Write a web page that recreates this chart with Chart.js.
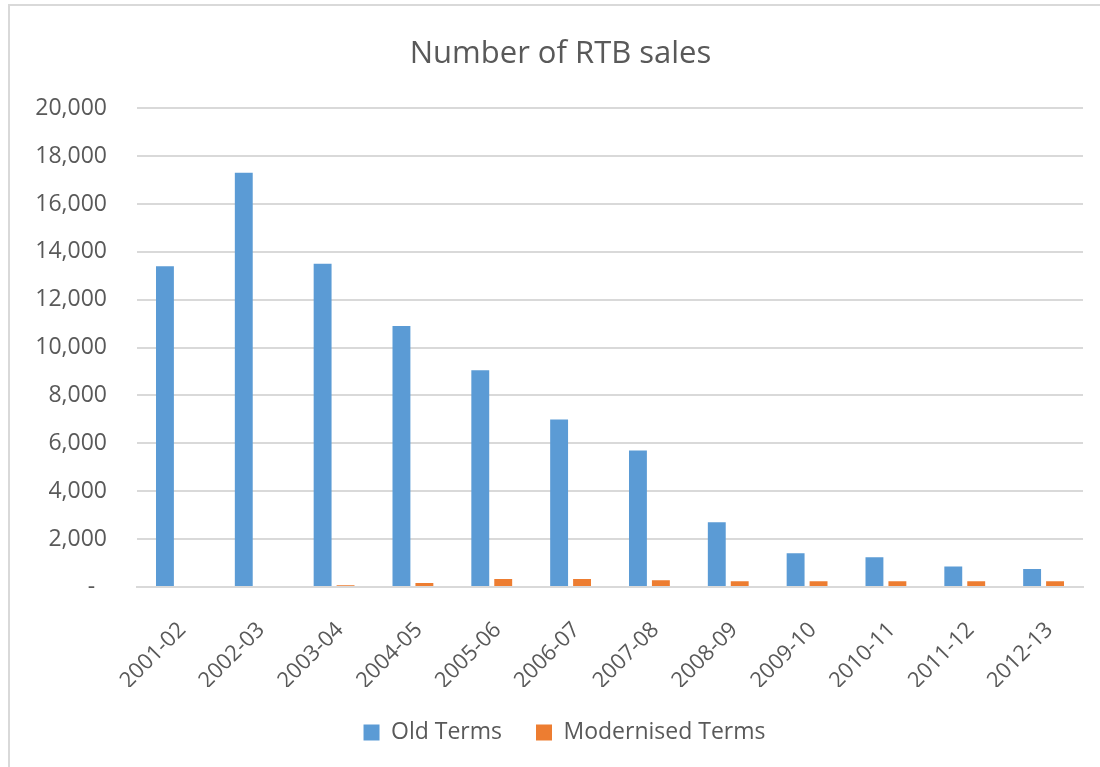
<!DOCTYPE html>
<html>
<head>
<meta charset="utf-8">
<title>Number of RTB sales</title>
<script src="https://cdn.jsdelivr.net/npm/chart.js@4"></script>
<style>
  html, body { margin: 0; padding: 0; background: #fff; overflow: hidden; }
  #frame {
    position: absolute; left: 8px; top: 4px; width: 1200px; height: 900px;
    border: 2px solid #d9d9d9; box-sizing: border-box;
  }
  #chart { position: absolute; left: 0; top: 0; }
</style>
</head>
<body>
<div id="frame"></div>
<canvas id="chart" width="1100" height="767"></canvas>
<script>
// data
const years = ['2001-02', '2002-03', '2003-04', '2004-05', '2005-06', '2006-07',
  '2007-08', '2008-09', '2009-10', '2010-11', '2011-12', '2012-13'];
const oldTerms = [13400, 17300, 13500, 10900, 9050, 7000, 5700, 2700, 1410, 1240, 860, 750];
const modernisedTerms = [0, 0, 70, 170, 330, 330, 280, 240, 240, 240, 240, 240];
const yTicks = [0, 2000, 4000, 6000, 8000, 10000, 12000, 14000, 16000, 18000, 20000];

const textColor = '#595959';
const gridColor = '#d9d9d9';
const fontFamily = '"Open Sans", "Liberation Sans", sans-serif';

// title and legend in the original sit a bit right of the canvas centre
const centreShift = {
  id: 'centreShift',
  afterLayout(chart) {
    chart.titleBlock.left += 38;
    chart.legend.left += 46;
  }
};

const ctx = document.getElementById('chart').getContext('2d');

new Chart(ctx, {
  type: 'bar',
  data: {
    labels: years,
    datasets: [
      {
        label: 'Old Terms',
        data: oldTerms,
        backgroundColor: '#5b9bd5',
        categoryPercentage: 0.582,
        barPercentage: 0.78
      },
      {
        label: 'Modernised Terms',
        data: modernisedTerms,
        backgroundColor: '#ed7d31',
        categoryPercentage: 0.582,
        barPercentage: 0.78
      }
    ]
  },
  plugins: [centreShift],
  options: {
    responsive: false,
    animation: false,
    devicePixelRatio: 1,
    layout: {
      padding: { top: 30, right: 17, bottom: 13, left: 0 }
    },
    plugins: {
      title: {
        display: true,
        text: 'Number of RTB sales',
        color: textColor,
        font: { family: fontFamily, size: 31, weight: 'normal' },
        padding: { top: 6, bottom: 35 }
      },
      legend: {
        position: 'bottom',
        labels: {
          color: textColor,
          font: { family: fontFamily, size: 23 },
          boxWidth: 16,
          boxHeight: 16,
          padding: 34
        }
      },
      tooltip: { enabled: false }
    },
    scales: {
      x: {
        grid: { display: false },
        border: { color: gridColor, width: 2 },
        ticks: {
          color: textColor,
          font: { family: fontFamily, size: 22 },
          minRotation: 45,
          maxRotation: 45,
          padding: 22,
          labelOffset: 6
        },
        afterFit: (scale) => { scale.height = 100; }
      },
      y: {
        min: 0,
        max: 20000,
        afterBuildTicks: (scale) => {
          scale.ticks = yTicks.map(v => ({ value: v }));
        },
        grid: { color: gridColor, lineWidth: 2, drawTicks: false },
        border: { display: false },
        ticks: {
          color: textColor,
          font: { family: fontFamily, size: 23 },
          padding: 30,
          callback: (value) => value === 0 ? '-  ' : value.toLocaleString('en-US')
        },
        afterFit: (scale) => { scale.width = 137; }
      }
    }
  }
});
</script>
</body>
</html>
